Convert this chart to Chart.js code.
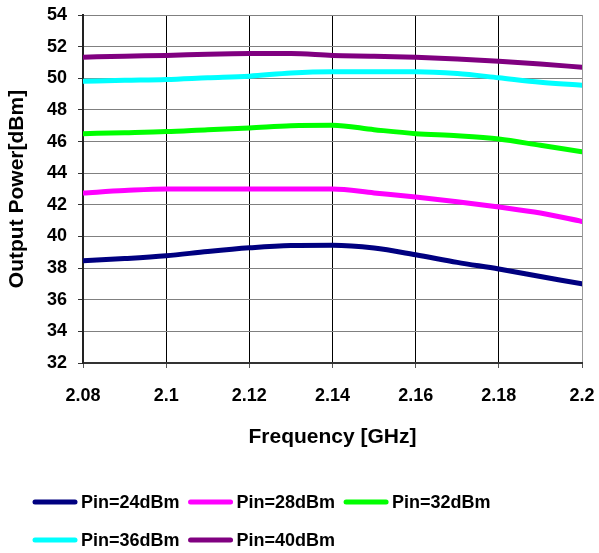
<!DOCTYPE html>
<html>
<head>
<meta charset="utf-8">
<script src="https://cdn.jsdelivr.net/npm/chart.js@4/dist/chart.umd.min.js"></script>
<style>
  html, body { margin: 0; padding: 0; background: #fff; }
  #wrap { width: 599px; height: 553px; position: relative; }
</style>
</head>
<body>
<div id="wrap"><canvas id="c" width="599" height="553"></canvas></div>
<script>
// ---- data ----
const frequencies = [2.08, 2.09, 2.10, 2.11, 2.12, 2.13, 2.14, 2.15, 2.16, 2.17, 2.18, 2.19, 2.20];
const pin24 = [38.46, 38.60, 38.78, 39.05, 39.28, 39.43, 39.45, 39.27, 38.84, 38.36, 37.94, 37.47, 37.00];
const pin28 = [42.75, 42.90, 43.00, 43.00, 43.00, 43.00, 43.00, 42.75, 42.50, 42.20, 41.86, 41.48, 40.95];
const pin32 = [46.50, 46.56, 46.63, 46.75, 46.86, 47.00, 47.03, 46.75, 46.50, 46.37, 46.16, 45.76, 45.36];
const pin36 = [49.81, 49.87, 49.92, 50.03, 50.13, 50.34, 50.42, 50.42, 50.42, 50.30, 50.03, 49.75, 49.56];
const pin40 = [51.33, 51.40, 51.44, 51.52, 51.56, 51.56, 51.44, 51.40, 51.33, 51.22, 51.08, 50.90, 50.70];
const seriesLabels = ['Pin=24dBm', 'Pin=28dBm', 'Pin=32dBm', 'Pin=36dBm', 'Pin=40dBm'];
const seriesColors = ['#000080', '#FF00FF', '#00FF00', '#00FFFF', '#800080'];
const xTickValues = [2.08, 2.10, 2.12, 2.14, 2.16, 2.18, 2.20];
const xTickLabels = ['2.08', '2.1', '2.12', '2.14', '2.16', '2.18', '2.2'];
const yMin = 32, yMax = 54, yStep = 2;
const xTitle = 'Frequency [GHz]';
const yTitle = 'Output Power[dBm]';

const FONT = "'Liberation Sans', Arial, sans-serif";
const allSeries = [pin24, pin28, pin32, pin36, pin40];

const datasets = allSeries.map((vals, i) => ({
  label: seriesLabels[i],
  data: frequencies.map((f, j) => ({ x: f, y: vals[j] })),
  borderColor: seriesColors[i],
  backgroundColor: seriesColors[i],
  borderWidth: 5,
  pointRadius: 0,
  tension: 0.25,
  cubicInterpolationMode: 'monotone',
  borderCapStyle: 'round',
  borderJoinStyle: 'round'
}));

// custom legend drawn below the chart
const bottomLegend = {
  id: 'bottomLegend',
  afterDraw(chart) {
    const ctx = chart.ctx;
    ctx.save();
    ctx.font = "bold 18px " + FONT;
    ctx.textBaseline = 'middle';
    const startX = 33, rowY = [502, 540], lineW = 44, gapText = 4, gapItem = 9, maxRight = 560;
    let x = startX, row = 0;
    chart.data.datasets.forEach((ds, i) => {
      const tw = ctx.measureText(ds.label).width;
      const w = lineW + gapText + tw;
      if (i > 0 && x + w > maxRight) { row++; x = startX; }
      const y = rowY[row] !== undefined ? rowY[row] : rowY[rowY.length - 1] + 38 * (row - rowY.length + 1);
      ctx.strokeStyle = ds.borderColor;
      ctx.lineWidth = 5;
      ctx.lineCap = 'round';
      ctx.beginPath();
      ctx.moveTo(x + 2, y);
      ctx.lineTo(x + lineW - 2, y);
      ctx.stroke();
      ctx.fillStyle = '#000';
      ctx.fillText(ds.label, x + lineW + gapText, y + 1);
      x += w + gapItem;
    });
    ctx.restore();
  }
};

new Chart(document.getElementById('c'), {
  type: 'line',
  data: { datasets },
  options: {
    responsive: false,
    animation: false,
    layout: { padding: { left: 0, right: 17, top: 15, bottom: 95 } },
    plugins: { legend: { display: false }, tooltip: { enabled: false } },
    scales: {
      x: {
        type: 'linear',
        min: 2.08, max: 2.2,
        afterBuildTicks(scale) { scale.ticks = xTickValues.map(v => ({ value: v })); },
        afterFit(scale) {
          scale.height = 95;
          scale.paddingLeft = 0; scale.paddingRight = 0;
        },
        ticks: {
          padding: 17,
          color: '#000',
          font: { family: FONT, size: 18, weight: 'bold' },
          maxRotation: 0,
          callback(value, index) { return xTickLabels[index]; }
        },
        grid: {
          color: (ctx) => ctx.index === xTickValues.length - 1 ? '#999999' : '#000000',
          tickColor: '#555',
          tickLength: 5,
          lineWidth: 1
        },
        border: { color: '#333', width: 2 },
        title: {
          display: true,
          text: xTitle,
          color: '#000',
          font: { family: FONT, size: 21, weight: 'bold' },
          padding: { top: 0, bottom: 8 }
        }
      },
      y: {
        min: yMin, max: yMax,
        afterBuildTicks(scale) {
          const t = [];
          for (let v = yMin; v <= yMax; v += yStep) t.push({ value: v });
          scale.ticks = t;
        },
        afterFit(scale) {
          scale.width = 83;
          scale.paddingTop = 0; scale.paddingBottom = 0;
        },
        ticks: {
          padding: 11,
          color: '#000',
          font: { family: FONT, size: 18, weight: 'bold' }
        },
        grid: { color: '#808080', tickColor: '#333', tickLength: 5, lineWidth: 1 },
        border: { color: '#222', width: 2 },
        title: {
          display: true,
          text: yTitle,
          color: '#000',
          font: { family: FONT, size: 21, weight: 'bold' },
          padding: { top: 5, bottom: 0 }
        }
      }
    }
  },
  plugins: [bottomLegend]
});
</script>
</body>
</html>
